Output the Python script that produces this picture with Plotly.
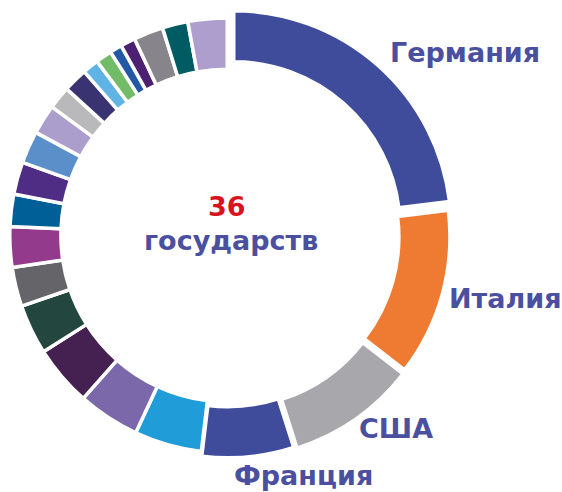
import plotly.graph_objects as go

# доли государств (оценка по картинке), по часовой стрелке от 12 часов
countries = [
    "Германия", "Италия", "США", "Франция",
    "c5", "c6", "c7", "c8", "c9", "c10", "c11", "c12", "c13", "c14",
    "c15", "c16", "c17", "c18", "c19", "c20", "c21", "c22", "c23",
]
shares = [
    23.0, 12.4, 9.6, 6.8,
    5.0, 4.6, 4.5, 3.7, 2.9, 3.0, 2.4, 2.4, 2.4, 2.2,
    1.7, 1.8, 1.2, 1.2, 0.9, 1.1, 2.2, 1.9, 2.9,
]
colors = [
    "#3f4c9c", "#ef7b33", "#a8a7ab", "#3f4c9c",
    "#209cd8", "#7b68aa", "#452151", "#23473f", "#656469", "#933a8c",
    "#005f96", "#4f2d85", "#5a8fc9", "#ab9dcc", "#b9b9bb", "#393372",
    "#60b3e5", "#72bb67", "#2358a4", "#4c2172", "#87858b", "#005c62",
    "#ad9ecd",
]
pulls = [0.045, 0.025, 0.03, 0.022] + [0] * 19

LABEL_COLOR = "#4a509f"
W, H = 562, 492

cx, cy, size = 225.5, 235.5, 458

fig = go.Figure(go.Pie(
    labels=countries,
    values=shares,
    sort=False,
    direction="clockwise",
    rotation=0,
    hole=0.765,
    pull=pulls,
    marker=dict(colors=colors, line=dict(color="white", width=3.5)),
    textinfo="none",
    hoverinfo="label+percent",
    domain=dict(
        x=[max(0, (cx - size / 2) / W), (cx + size / 2) / W],
        y=[1 - (cy + size / 2) / H, 1 - (cy - size / 2) / H],
    ),
))


def px_text(text, x, y, color=LABEL_COLOR, size=27):
    fig.add_annotation(
        text=text, x=x / W, y=1 - y / H,
        xref="paper", yref="paper",
        showarrow=False, xanchor="center", yanchor="middle",
        font=dict(family="DejaVu Sans", size=size, color=color, weight="bold"),
    )


px_text("Германия", 465, 53)
px_text("Италия", 505, 298)
px_text("США", 396, 428)
px_text("Франция", 303, 475)
px_text("36", 227, 207, color="#d7141e")
px_text("государств", 231, 240)

fig.update_layout(
    width=W, height=H,
    margin=dict(l=0, r=0, t=0, b=0),
    showlegend=False,
    paper_bgcolor="white",
    plot_bgcolor="white",
)

# убираем стандартный отступ body, чтобы фигура встала в окно целиком
fig.write_html(
    "out.html",
    config={"displayModeBar": False},
    post_script="document.body.style.margin='0';",
)
